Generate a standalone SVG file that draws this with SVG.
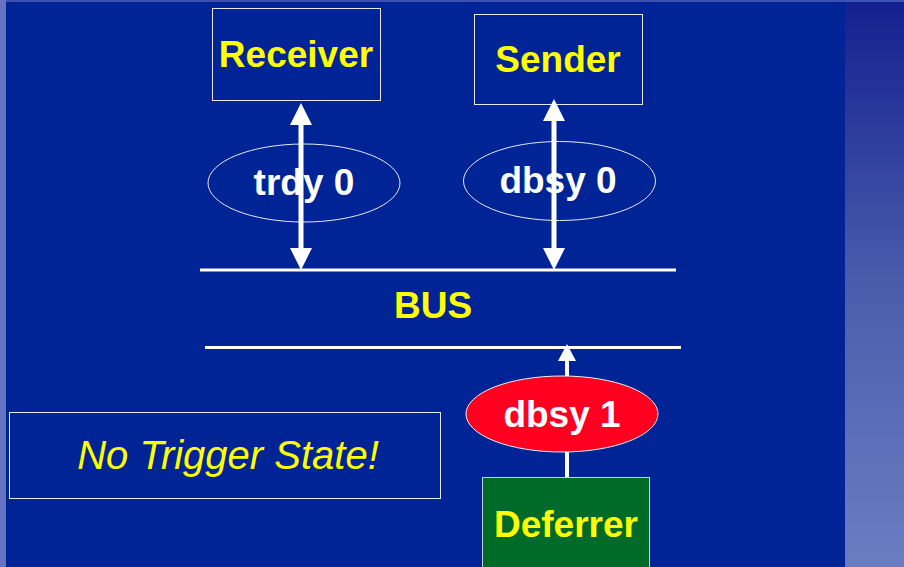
<svg xmlns="http://www.w3.org/2000/svg" width="904" height="567" viewBox="0 0 904 567">
  <defs>
    <linearGradient id="sidePanel" x1="0" y1="0" x2="0" y2="1">
      <stop offset="0" stop-color="#14208f"/>
      <stop offset="0.5" stop-color="#4a5dac"/>
      <stop offset="1" stop-color="#6b7dc2"/>
    </linearGradient>
  </defs>
  <style>
    .box { fill: none; stroke: #e8e8f0; stroke-width: 1; }
    .oval { fill: none; stroke: #e8e8f0; stroke-width: 1; }
    .lbl { font-family: "Liberation Sans", Arial, sans-serif; font-weight: bold; font-size: 37px; text-anchor: middle; }
    .yellow { fill: #ffff00; }
    .white { fill: #ffffff; }
    .bus { stroke: #ffffff; stroke-width: 3; }
    .link { stroke: #ffffff; fill: none; }
    .tip { fill: #ffffff; }
  </style>

  <!-- background -->
  <rect x="0" y="0" width="904" height="567" fill="#002496"/>
  <rect x="0" y="0" width="904" height="2" fill="#3c50b2"/>
  <rect x="0" y="0" width="6" height="567" fill="#6673c0"/>
  <rect x="845" y="2" width="59" height="565" fill="url(#sidePanel)"/>

  <!-- bus rails -->
  <g id="bus">
    <line class="bus" x1="200" y1="270" x2="676" y2="270"/>
    <line class="bus" x1="205" y1="347.5" x2="681" y2="347.5"/>
    <text class="lbl yellow" x="433" y="318">BUS</text>
  </g>

  <g id="receiver">
    <rect class="box" x="212.5" y="8.5" width="168" height="92"/>
    <text class="lbl yellow" x="296" y="67">Receiver</text>
  </g>

  <g id="sender">
    <rect class="box" x="474.5" y="14.5" width="168" height="90"/>
    <text class="lbl yellow" x="558" y="72">Sender</text>
  </g>

  <g id="trdy0">
    <ellipse class="oval" cx="304" cy="183" rx="96" ry="39"/>
    <text class="lbl white" x="304" y="195">trdy 0</text>
  </g>

  <g id="dbsy0">
    <ellipse class="oval" cx="559.5" cy="181" rx="96" ry="39.5"/>
    <text class="lbl white" x="558" y="193">dbsy 0</text>
  </g>

  <g id="dbsy1">
    <ellipse cx="562" cy="414" rx="96" ry="38" fill="#ff0020" stroke="#f0f0f0" stroke-width="1"/>
    <text class="lbl white" x="562" y="427">dbsy 1</text>
  </g>

  <g id="deferrer">
    <rect x="482.5" y="477.5" width="167" height="95" fill="#006a28" stroke="#c8d0e0" stroke-width="1"/>
    <text class="lbl yellow" x="566" y="537">Deferrer</text>
  </g>

  <g id="note">
    <rect class="box" x="9.5" y="412.5" width="431" height="86"/>
    <text x="228" y="469" font-family="Liberation Sans, Arial, sans-serif" font-style="italic" font-size="40" text-anchor="middle" fill="#ffff00">No Trigger State!</text>
  </g>

  <!-- connectors: double arrows to the bus, single arrow from the deferrer -->
  <g id="connectors">
    <line class="link" x1="301" y1="124" x2="301" y2="249" stroke-width="5"/>
    <polygon class="tip" points="301,103 290,125 312,125"/>
    <polygon class="tip" points="301,270 290,248 312,248"/>

    <line class="link" x1="554" y1="120" x2="554" y2="249" stroke-width="5"/>
    <polygon class="tip" points="554,99 543,121 565,121"/>
    <polygon class="tip" points="554,270 543,248 565,248"/>

    <line class="link" x1="567" y1="360" x2="567" y2="376" stroke-width="4"/>
    <line class="link" x1="567" y1="452" x2="567" y2="477" stroke-width="4"/>
    <polygon class="tip" points="567,344 558,361 576,361"/>
  </g>
</svg>
